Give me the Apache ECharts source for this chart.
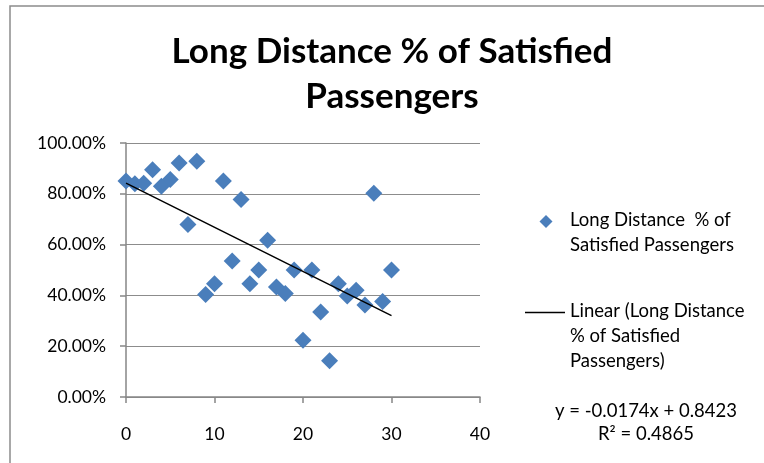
<!DOCTYPE html>
<html>
<head>
<meta charset="utf-8">
<script src="https://cdn.jsdelivr.net/npm/echarts@6/dist/echarts.min.js"></script>
<style>
  html, body { margin: 0; padding: 0; background: #fff; }
  #chart { width: 764px; height: 463px; }
</style>
</head>
<body>
<div id="chart"></div>
<script>
// Satisfaction survey: journey index vs. share of satisfied passengers
const seriesName = 'Long Distance % of Satisfied Passengers';
const journeyIndex = [0, 1, 2, 3, 4, 5, 6, 7, 8, 9, 10, 11, 12, 13, 14, 15,
                      16, 17, 18, 19, 20, 21, 22, 23, 24, 25, 26, 27, 28, 29, 30];
const satisfiedShare = [0.850, 0.840, 0.842, 0.895, 0.830, 0.856, 0.921, 0.679,
                        0.928, 0.404, 0.446, 0.850, 0.535, 0.778, 0.446, 0.500,
                        0.617, 0.433, 0.407, 0.500, 0.223, 0.500, 0.335, 0.143,
                        0.446, 0.398, 0.420, 0.362, 0.802, 0.376, 0.500];

// Least-squares trend as reported on the chart
const trendSlope = -0.0174;
const trendIntercept = 0.8423;
const trendR2 = 0.4865;
const trendRange = [0, 30];

const xTicks = { min: 0, max: 40, interval: 10 };
const yTicks = { min: 0, max: 1, interval: 0.2 };

const points = journeyIndex.map((x, i) => [x, satisfiedShare[i]]);
const trendPoints = trendRange.map(x => [x, trendSlope * x + trendIntercept]);

const font = 'Lato, "Open Sans", sans-serif';
const axisGrey = '#868686';
const markerBlue = '#4a7ebb';

const chart = echarts.init(document.getElementById('chart'), null, { renderer: 'canvas' });

chart.setOption({
  animation: false,
  backgroundColor: '#ffffff',
  title: {
    text: 'Long Distance % of Satisfied\nPassengers',
    left: 392,
    top: 29,
    padding: 0,
    textAlign: 'center',
    textStyle: {
      fontFamily: font,
      fontWeight: 'bold',
      fontSize: 35,
      lineHeight: 45,
      color: '#000'
    }
  },
  grid: { left: 126, right: 284, top: 143, bottom: 66, containLabel: false },
  xAxis: {
    type: 'value',
    min: xTicks.min,
    max: xTicks.max,
    interval: xTicks.interval,
    axisLine: { show: true, lineStyle: { color: axisGrey, width: 1.5 } },
    axisTick: { show: true, inside: false, length: 6, lineStyle: { color: axisGrey, width: 1.5 } },
    splitLine: { show: false },
    axisLabel: { margin: 28, fontFamily: font, fontSize: 17.5, color: '#000' }
  },
  yAxis: {
    type: 'value',
    min: yTicks.min,
    max: yTicks.max,
    interval: yTicks.interval,
    axisLine: { show: true, lineStyle: { color: axisGrey, width: 1.5 } },
    axisTick: { show: true, inside: false, length: 6, lineStyle: { color: axisGrey, width: 1.5 } },
    splitLine: { show: true, lineStyle: { color: '#8c8c8c', width: 1.2 } },
    axisLabel: {
      margin: 20,
      fontFamily: font,
      fontSize: 17.5,
      color: '#000',
      formatter: v => (v * 100).toFixed(2) + '%'
    }
  },
  series: [
    {
      name: seriesName,
      type: 'scatter',
      data: points,
      symbol: 'diamond',
      symbolSize: 17,
      itemStyle: { color: markerBlue, opacity: 1 },
      z: 2
    },
    {
      name: 'Linear (' + seriesName + ')',
      type: 'line',
      data: trendPoints,
      symbol: 'none',
      lineStyle: { color: '#000', width: 1.5 },
      z: 3
    }
  ],
  graphic: [
    // chart frame
    {
      type: 'rect',
      shape: { x: 10, y: 6, width: 800, height: 500 },
      style: { fill: 'none', stroke: '#8c8c8c', lineWidth: 1.5 },
      silent: true,
      z: -1
    },
    // legend: marker entry
    {
      type: 'polygon',
      shape: { points: [[546, 215], [552.5, 221.5], [546, 228], [539.5, 221.5]] },
      style: { fill: markerBlue }
    },
    {
      type: 'text',
      left: 570, top: 208,
      style: {
        text: 'Long Distance  % of\nSatisfied Passengers',
        font: '18.5px ' + font,
        lineHeight: 25,
        fill: '#000'
      }
    },
    // legend: trend entry
    {
      type: 'line',
      shape: { x1: 525, y1: 312.5, x2: 565, y2: 312.5 },
      style: { stroke: '#000', lineWidth: 1.5 }
    },
    {
      type: 'text',
      left: 570, top: 299,
      style: {
        text: 'Linear (Long Distance\n% of Satisfied\nPassengers)',
        font: '18.5px ' + font,
        lineHeight: 24.7,
        fill: '#000'
      }
    },
    // trendline equation
    {
      type: 'text',
      x: 646, y: 399,
      style: {
        text: 'y = ' + trendSlope.toFixed(4) + 'x + ' + trendIntercept.toFixed(4) +
              '\nR² = ' + trendR2.toFixed(4),
        font: '18.5px ' + font,
        lineHeight: 23.5,
        align: 'center',
        fill: '#000'
      }
    }
  ]
});
</script>
</body>
</html>
